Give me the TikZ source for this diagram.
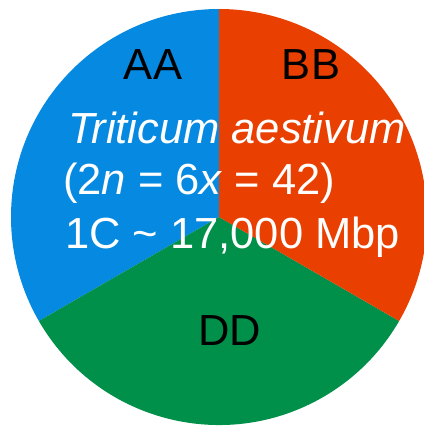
\documentclass[tikz,border=0pt]{standalone}
\usepackage{fontspec}
\setmainfont{Liberation Sans}
\usepackage{xcolor}
\definecolor{cAA}{HTML}{0689E0}
\definecolor{cBB}{HTML}{E93F00}
\definecolor{cDD}{HTML}{00904A}
\usepackage{tikz}
\usetikzlibrary{positioning}
\tikzset{
  genome-label/.style={anchor=base,inner sep=0pt,text=black,
    font=\fontsize{43.5}{52}\selectfont},
  species-line/.style={anchor=base west,inner sep=0pt,text=white,
    font=\fontsize{43.5}{52}\selectfont},
}

\begin{document}
\begin{tikzpicture}[x=1pt,y=-1pt]
  \useasboundingbox (0,0) rectangle (423,428);
  \coordinate (c) at (219,217);
  % three equal sectors
  \fill[cAA] (c) -- ++(-90:208) arc[start angle=-90,end angle=-210,radius=208] -- cycle;
  \fill[cDD] (c) -- ++(-210:208) arc[start angle=-210,end angle=-330,radius=208] -- cycle;
  \fill[cBB] (c) -- ++(-330:208) arc[start angle=-330,end angle=-450,radius=208] -- cycle;
  \node[genome-label] (aa) at (153,79) {AA};
  \node[genome-label] (bb) at (311,79) {BB};
  \node[genome-label] (dd) at (230,345) {DD};
  \node[species-line] (sp)   at (68,143) {\itshape Triticum aestivum};
  \node[species-line] (chr)  at (63,194) {(2\textit{n} = 6\textit{x} = 42)};
  \node[species-line] (size) at (65,248) {1C \~{} 17,000 Mbp};
\end{tikzpicture}
\end{document}
